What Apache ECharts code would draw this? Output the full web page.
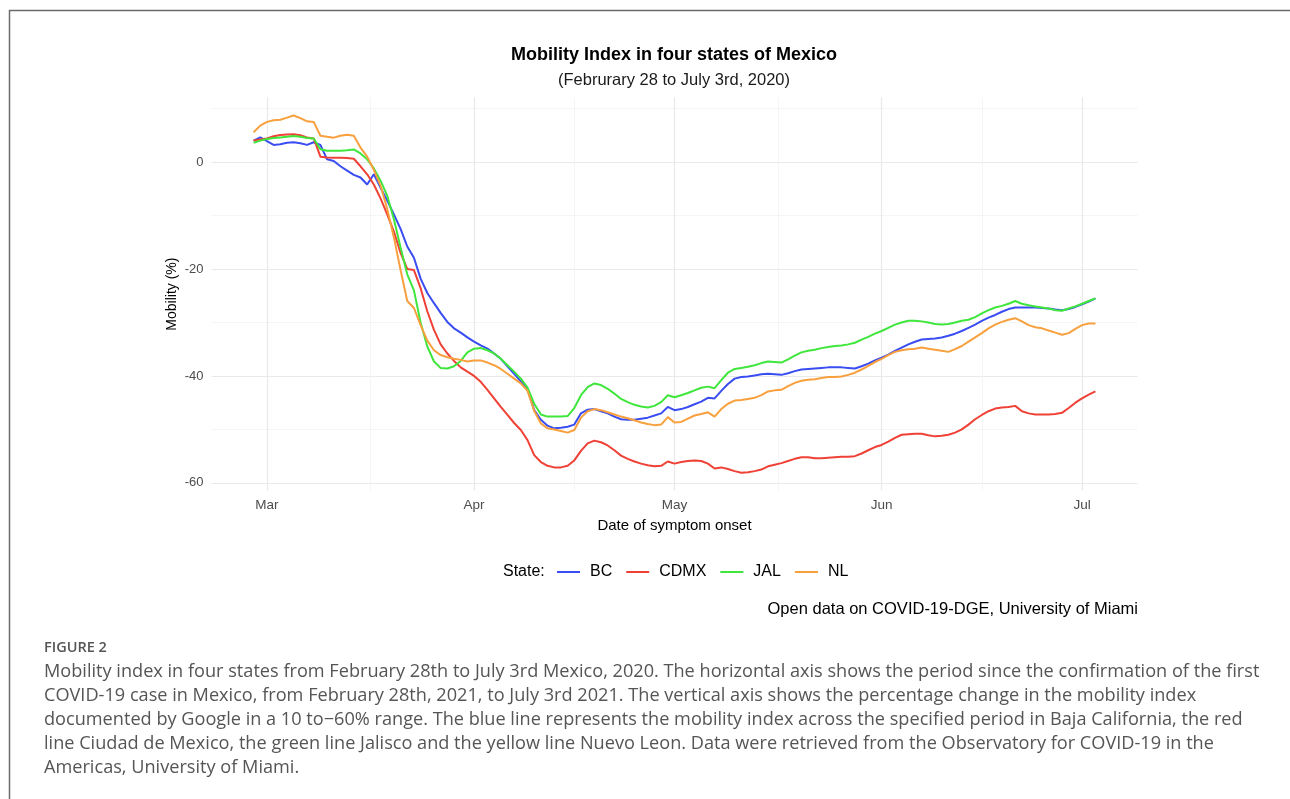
<!DOCTYPE html>
<html><head><meta charset="utf-8">
<script src="https://cdn.jsdelivr.net/npm/echarts@6/dist/echarts.min.js"></script>
<style>html,body{margin:0;padding:0;background:#fff}#c{width:1290px;height:799px}</style>
</head><body><div id="c"></div>
<script>
// ---- data (daily, starting Feb 28, 2020) ----
const startDate = '2020-02-28';
const stateNames = ['BC', 'CDMX', 'JAL', 'NL'];
const bc = [
 4.0,4.6,3.9,3.2,3.3,3.6,3.7,3.5,3.2,3.7,
 3.2,0.5,0.2,-0.8,-1.6,-2.4,-2.9,-4.2,-2.3,-4.8,
 -7.2,-9.8,-12.5,-15.8,-17.9,-21.8,-24.5,-26.4,-28.2,-29.9,
 -31.1,-31.9,-32.8,-33.6,-34.3,-34.9,-35.8,-36.8,-38.2,-39.6,
 -41.0,-42.4,-46.4,-48.2,-49.3,-49.8,-49.7,-49.5,-49.1,-47.0,
 -46.3,-46.2,-46.6,-47.0,-47.6,-48.1,-48.2,-48.2,-48.0,-47.8,
 -47.4,-47.0,-45.8,-46.4,-46.2,-45.8,-45.3,-44.8,-44.1,-44.2,
 -42.8,-41.5,-40.5,-40.2,-40.1,-39.9,-39.7,-39.6,-39.7,-39.8,
 -39.5,-39.1,-38.8,-38.7,-38.6,-38.5,-38.4,-38.4,-38.4,-38.5,
 -38.6,-38.2,-37.7,-37.1,-36.6,-36.0,-35.3,-34.7,-34.1,-33.6,
 -33.2,-33.1,-33.0,-32.8,-32.5,-32.1,-31.6,-31.0,-30.4,-29.7,
 -29.1,-28.6,-28.0,-27.5,-27.2,-27.2,-27.2,-27.2,-27.3,-27.4,
 -27.6,-27.7,-27.5,-27.1,-26.6,-26.1,-25.5];
const cdmx = [
 4.0,4.2,4.4,4.8,5.05,5.15,5.2,5.0,4.6,4.4,
 1.0,0.85,0.8,0.8,0.75,0.6,-0.8,-2.3,-4.2,-6.8,
 -9.8,-13.0,-17.0,-20.0,-20.2,-23.6,-27.9,-31.4,-34.1,-35.8,
 -37.2,-38.4,-39.2,-40.0,-41.1,-42.6,-44.2,-45.8,-47.3,-48.8,
 -50.1,-52.0,-54.8,-56.1,-56.8,-57.1,-57.1,-56.8,-55.8,-54.0,
 -52.6,-52.1,-52.4,-53.0,-53.9,-54.9,-55.5,-56.0,-56.4,-56.7,
 -56.9,-56.8,-56.0,-56.4,-56.1,-55.9,-55.8,-55.9,-56.4,-57.3,
 -57.1,-57.4,-57.8,-58.1,-58.0,-57.8,-57.5,-56.9,-56.6,-56.3,
 -55.9,-55.5,-55.2,-55.2,-55.4,-55.4,-55.3,-55.2,-55.1,-55.1,
 -55.0,-54.5,-53.9,-53.3,-52.9,-52.3,-51.6,-51.0,-50.9,-50.8,
 -50.8,-51.1,-51.3,-51.2,-51.0,-50.6,-50.0,-49.1,-48.1,-47.3,
 -46.6,-46.1,-45.9,-45.8,-45.6,-46.6,-47.0,-47.2,-47.2,-47.2,
 -47.1,-46.9,-46.0,-45.0,-44.2,-43.5,-42.9];
const jal = [
 3.6,4.0,4.3,4.5,4.6,4.7,4.85,4.7,4.5,4.4,
 2.4,2.1,2.1,2.1,2.2,2.35,1.6,0.5,-1.2,-3.5,
 -6.3,-10.7,-16.0,-21.0,-24.0,-30.0,-34.5,-37.3,-38.5,-38.6,
 -38.2,-37.2,-35.6,-34.9,-34.8,-35.2,-35.8,-36.8,-38.0,-39.2,
 -40.5,-42.2,-45.2,-47.2,-47.6,-47.6,-47.6,-47.5,-46.0,-43.6,
 -42.1,-41.4,-41.7,-42.4,-43.3,-44.3,-44.9,-45.4,-45.7,-45.9,
 -45.6,-44.9,-43.6,-44.0,-43.6,-43.2,-42.7,-42.2,-42.0,-42.3,
 -40.8,-39.4,-38.7,-38.5,-38.3,-38.0,-37.6,-37.3,-37.4,-37.5,
 -36.9,-36.2,-35.6,-35.3,-35.1,-34.8,-34.6,-34.4,-34.3,-34.1,
 -33.8,-33.2,-32.7,-32.1,-31.6,-31.0,-30.4,-30.0,-29.7,-29.7,
 -29.8,-30.0,-30.3,-30.4,-30.3,-30.0,-29.7,-29.5,-29.0,-28.3,
 -27.7,-27.2,-26.9,-26.5,-26.0,-26.5,-26.8,-27.0,-27.2,-27.4,
 -27.7,-27.8,-27.4,-27.0,-26.5,-26.0,-25.5];
const nl = [
 5.55,6.8,7.5,7.8,7.9,8.3,8.7,8.2,7.6,7.5,
 4.9,4.7,4.55,4.9,5.1,4.9,2.7,1.0,-1.5,-4.4,
 -8.8,-14.1,-20.2,-26.0,-27.3,-30.5,-33.4,-35.2,-36.1,-36.5,
 -36.8,-37.0,-37.3,-37.1,-37.1,-37.5,-38.0,-38.7,-39.6,-40.5,
 -41.4,-42.8,-46.5,-48.9,-49.8,-50.0,-50.3,-50.6,-50.1,-47.8,
 -46.6,-46.2,-46.4,-46.8,-47.2,-47.6,-47.9,-48.3,-48.7,-49.0,
 -49.2,-49.1,-47.7,-48.7,-48.6,-48.0,-47.4,-47.1,-46.8,-47.6,
 -46.2,-45.2,-44.6,-44.5,-44.3,-44.1,-43.6,-42.9,-42.7,-42.6,
 -41.9,-41.3,-40.9,-40.7,-40.6,-40.4,-40.2,-40.2,-40.1,-39.8,
 -39.4,-38.8,-38.1,-37.4,-36.8,-36.1,-35.5,-35.2,-35.0,-34.9,
 -34.7,-34.9,-35.1,-35.3,-35.5,-35.0,-34.4,-33.6,-32.8,-32.0,
 -31.1,-30.4,-29.9,-29.5,-29.2,-29.8,-30.5,-30.9,-31.1,-31.5,
 -31.9,-32.3,-32.0,-31.2,-30.5,-30.2,-30.2];
const monthTickDates = ['2020-03-01','2020-04-01','2020-05-01','2020-06-01','2020-07-01'];
const monthTickLabels = ['Mar','Apr','May','Jun','Jul'];
const yMajorTicks = [-60, -40, -20, 0];
const yMinorTicks = [-50, -30, -10, 10];
const titleText = 'Mobility Index in four states of Mexico';
const subtitleText = '(Februrary 28 to July 3rd, 2020)';
const xTitle = 'Date of symptom onset';
const yTitle = 'Mobility (%)';
const sourceText = 'Open data on COVID-19-DGE, University of Miami';
const figLabel = 'FIGURE 2';
const captionLines = [
 'Mobility index in four states from February 28th to July 3rd Mexico, 2020. The horizontal axis shows the period since the confirmation of the first',
 'COVID-19 case in Mexico, from February 28th, 2021, to July 3rd 2021. The vertical axis shows the percentage change in the mobility index',
 'documented by Google in a 10 to\u221260% range. The blue line represents the mobility index across the specified period in Baja California, the red',
 'line Ciudad de Mexico, the green line Jalisco and the yellow line Nuevo Leon. Data were retrieved from the Observatory for COVID-19 in the',
 'Americas, University of Miami.'
];

// ---- helpers: x is "days since startDate" ----
const DAY = 86400000;
function utcDay(s) { const p = s.split('-').map(Number); return Date.UTC(p[0], p[1] - 1, p[2]) / DAY; }
const day0 = utcDay(startDate);
const seriesValues = [bc, cdmx, jal, nl];
const colors = ['#3a4df2', '#ef4136', '#3fe63b', '#f8a03d'];
const nDays = bc.length;
const xPad = (nDays - 1) * 0.05;
const allVals = [].concat(bc, cdmx, jal, nl);
const vMin = Math.min.apply(null, allVals), vMax = Math.max.apply(null, allVals);
const yPad = (vMax - vMin) * 0.05;
const majorX = monthTickDates.map(s => utcDay(s) - day0);
const minorX = [];
for (let i = 0; i < majorX.length - 1; i++) minorX.push((majorX[i] + majorX[i + 1]) / 2);

const FONT = '"Liberation Sans", Arial, Helvetica, sans-serif';
const chart = echarts.init(document.getElementById('c'), null, { renderer: 'canvas' });

const series = stateNames.map((name, k) => ({
  name: name, type: 'line', xAxisIndex: 0, yAxisIndex: 0,
  data: seriesValues[k].map((v, i) => [i, v]),
  showSymbol: false, symbol: 'none',
  lineStyle: { color: colors[k], width: 2 },
  itemStyle: { color: colors[k] },
  silent: true, z: 3
}));

const graphics = [
  { type: 'rect', shape: { x: 9.5, y: 10.5, width: 1400, height: 900 }, style: { fill: null, stroke: '#6b6b6b', lineWidth: 1.5 }, silent: true },
  { type: 'text', x: 674, y: 55, style: { text: titleText, font: 'bold 18px ' + FONT, fill: '#000', align: 'center', verticalAlign: 'middle' } },
  { type: 'text', x: 674, y: 80, style: { text: subtitleText, font: '16.5px ' + FONT, fill: '#1a1a1a', align: 'center', verticalAlign: 'middle' } },
  { type: 'text', x: 503, y: 572, style: { text: 'State:', font: '16px ' + FONT, fill: '#000', align: 'left', verticalAlign: 'middle' } },
  { type: 'text', x: 1138, y: 609, style: { text: sourceText, font: '16.5px ' + FONT, fill: '#000', align: 'right', verticalAlign: 'middle' } },
  { type: 'text', x: 44, y: 648, style: { text: figLabel, font: '600 14.5px "Open Sans", sans-serif', fill: '#555', align: 'left', verticalAlign: 'middle' } }
];
captionLines.forEach((t, k) => {
  graphics.push({ type: 'text', x: 44, y: 671.5 + 24 * k, style: { text: t, font: '18.15px "Open Sans", sans-serif', fill: '#555555', align: 'left', verticalAlign: 'middle' } });
});

const monthFmt = v => { for (let i = 0; i < majorX.length; i++) if (Math.abs(majorX[i] - v) < 0.01) return monthTickLabels[i]; return ''; };

chart.setOption({
  animation: false,
  backgroundColor: '#fff',
  grid: { left: 211.5, top: 97.6, width: 926, height: 393, containLabel: false },
  xAxis: [
    { type: 'value', min: -xPad, max: nDays - 1 + xPad,
      axisLine: { show: false }, axisTick: { show: false, customValues: majorX },
      axisLabel: { customValues: majorX, formatter: monthFmt, color: '#4d4d4d', fontSize: 13.5, fontFamily: FONT, margin: 8 },
      splitLine: { show: true, lineStyle: { color: '#e9e9e9', width: 1.2 } },
      name: xTitle, nameLocation: 'middle', nameGap: 28, nameTextStyle: { fontSize: 15, color: '#000', fontFamily: FONT } },
    { type: 'value', min: -xPad, max: nDays - 1 + xPad, position: 'top',
      axisLine: { show: false }, axisTick: { show: false, customValues: minorX },
      axisLabel: { show: false, customValues: minorX },
      splitLine: { show: true, lineStyle: { color: '#f3f3f3', width: 0.8 } } }
  ],
  yAxis: [
    { type: 'value', min: vMin - yPad, max: vMax + yPad,
      axisLine: { show: false }, axisTick: { show: false, customValues: yMajorTicks },
      axisLabel: { customValues: yMajorTicks, color: '#4d4d4d', fontSize: 13, fontFamily: FONT, margin: 8 },
      splitLine: { show: true, lineStyle: { color: '#e9e9e9', width: 1.2 } },
      name: yTitle, nameLocation: 'middle', nameGap: 32, nameRotate: 90, nameMoveOverlap: false,
      nameTextStyle: { fontSize: 14, color: '#000', fontFamily: FONT } },
    { type: 'value', min: vMin - yPad, max: vMax + yPad, position: 'right',
      axisLine: { show: false }, axisTick: { show: false, customValues: yMinorTicks },
      axisLabel: { show: false, customValues: yMinorTicks },
      splitLine: { show: true, lineStyle: { color: '#f3f3f3', width: 0.8 } } }
  ],
  legend: {
    data: stateNames, left: 557, top: 564, padding: 0, icon: 'rect', itemWidth: 23, itemHeight: 2, itemGap: 14,
    textStyle: { fontSize: 16, color: '#000', fontFamily: FONT, padding: [0, 0, 0, 5] },
    selectedMode: false
  },
  graphic: graphics,
  series: series
});
</script></body></html>
